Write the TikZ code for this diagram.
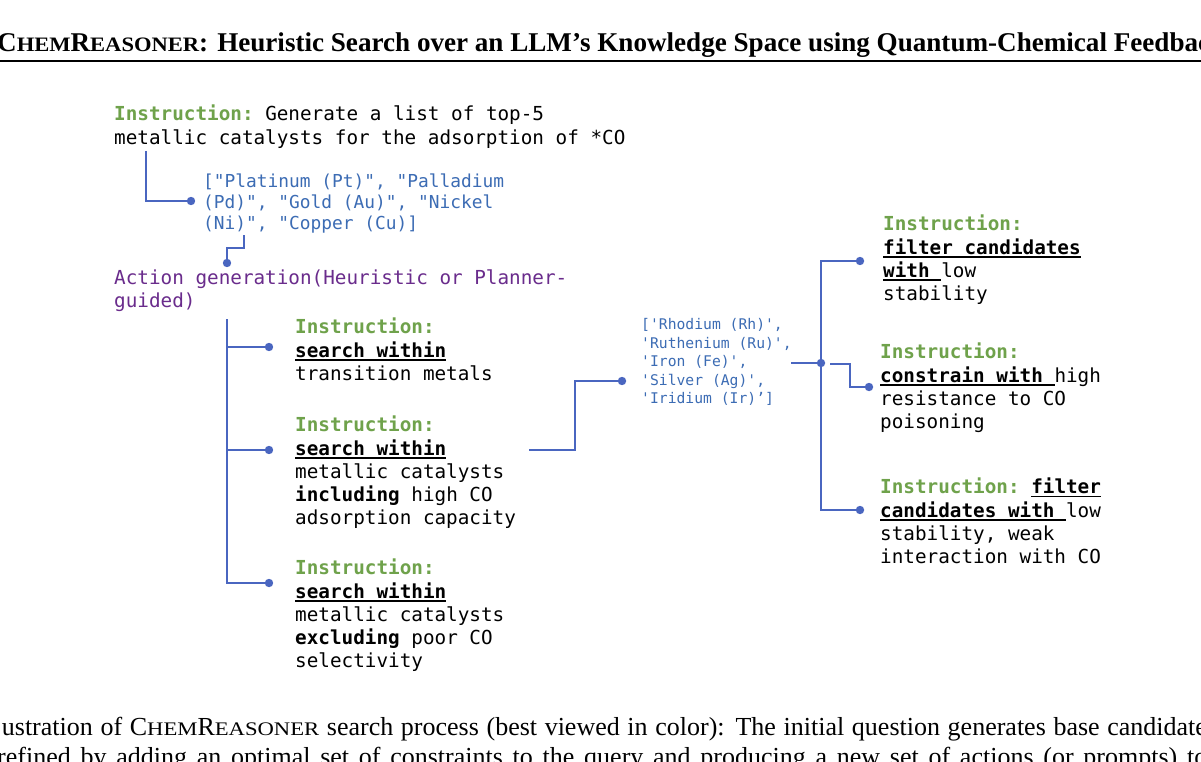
\documentclass[tikz,border=0pt]{standalone}
\usepackage{graphicx}
\usepackage{fontspec}
\setmainfont{Liberation Serif}
\setmonofont{DejaVu Sans Mono}
\definecolor{instgreen}{HTML}{6FA24B}
\definecolor{actpurple}{HTML}{6A2C8C}
\definecolor{listblue}{HTML}{3C6CB4}
\definecolor{linkblue}{HTML}{4A66C0}
\newcommand\inst[1]{\textcolor{instgreen}{\textbf{#1}}}
\newcommand\bul[1]{\setbox0\hbox{\textbf{#1}}\rlap{\rule[-3.6pt]{\wd0}{1.6pt}}\box0}
\newcommand\titlesc[1]{\scalebox{1.10}[1]{\fontsize{20.5}{20.5}\selectfont #1}}
\newcommand\capsc[1]{\scalebox{1.18}[1]{\fontsize{19.2}{19.2}\selectfont #1}}
\tikzset{
  txt/.style={font=\ttfamily\fontsize{19.3}{23.2}\selectfont, align=left, inner sep=0pt, anchor=north west},
  link/.style={draw=linkblue, line width=2pt},
  dot/.style={fill=linkblue},
}
\begin{document}
\begin{tikzpicture}[x=1pt,y=-1pt]
\useasboundingbox (0,0) rectangle (1201,762);
\clip (0,0) rectangle (1201,762);
\fill[white] (0,0) rectangle (1201,762);
% header
\node[anchor=base west, inner sep=0pt, font=\fontsize{27.1}{28}\selectfont\bfseries] (title) at (-3,52)
 {C\titlesc{HEM}R\titlesc{EASONER}: Heuristic Search over an LLM's Knowledge Space using Quantum-Chemical Feedback};
\coordinate (ruleL) at (0,61);
\coordinate (ruleR) at (1201,61);
\draw[line width=2.6pt] (ruleL) -- (ruleR);
% caption
\node[anchor=base west, inner sep=0pt, font=\fontsize{26}{30}\selectfont] (cap1) at (1.7,735)
 {\makebox[1205pt][s]{ustration of C\capsc{HEM}R\capsc{EASONER} search process (best viewed in color): The initial question generates base candidate}};
\node[anchor=base west, inner sep=0pt, font=\fontsize{26}{30}\selectfont] (cap2) at (-3,765)
 {\makebox[1210pt][s]{refined by adding an optimal set of constraints to the query and producing a new set of actions (or prompts) to}};
% nodes
\node[txt] (root) at (114,105) {\inst{Instruction:} Generate a list of top-5\\metallic catalysts for the adsorption of *CO};
\node[txt, font=\ttfamily\fontsize{17.85}{21}\selectfont, text=listblue] (cands) at (203,174)
 {["Platinum (Pt)", "Palladium\\(Pd)", "Gold (Au)", "Nickel\\(Ni)", "Copper (Cu)]};
\node[txt, font=\ttfamily\fontsize{19.3}{22.4}\selectfont, text=actpurple] (act) at (114,270)
 {Action generation(Heuristic or Planner-\\guided)};
\node[txt] (instA) at (295,318) {\inst{Instruction:}\\\bul{search within}\\transition metals};
\node[txt] (instB) at (295,416) {\inst{Instruction:}\\\bul{search within}\\metallic catalysts\\\textbf{including} high CO\\adsorption capacity};
\node[txt] (instC) at (295,559) {\inst{Instruction:}\\\bul{search within}\\metallic catalysts\\\textbf{excluding} poor CO\\selectivity};
\node[txt, font=\ttfamily\fontsize{14.7}{18.5}\selectfont, text=listblue] (cands2) at (641,318.5)
 {['Rhodium (Rh)',\\'Ruthenium (Ru)',\\'Iron (Fe)',\\'Silver (Ag)',\\'Iridium (Ir)’]};
\node[txt, font=\ttfamily\fontsize{19.3}{23.3}\selectfont] (instD) at (883,215) {\inst{Instruction:}\\\bul{filter candidates}\\\bul{with\ }low\\stability};
\node[txt, font=\ttfamily\fontsize{19.3}{23.3}\selectfont] (instE) at (880,343) {\inst{Instruction:}\\\bul{constrain with\ }high\\resistance to CO\\poisoning};
\node[txt, font=\ttfamily\fontsize{19.3}{23.3}\selectfont] (instF) at (880,478) {\inst{Instruction:} \bul{filter}\\\bul{candidates with\ }low\\stability, weak\\interaction with CO};
% connector points
\coordinate (rootOut) at (146,151);
\coordinate (candsIn) at (191,201);
\coordinate (candsOut) at (244,235);
\coordinate (actIn) at (227,263);
\coordinate (actOut) at (227,319);
\coordinate (aIn) at (269,347);
\coordinate (bIn) at (269,450);
\coordinate (cIn) at (269,583);
\coordinate (bOut) at (529,450);
\coordinate (cands2In) at (622,381);
\coordinate (cands2Out) at (791,363);
\coordinate (junc) at (821,363);
\coordinate (dIn) at (860,261);
\coordinate (eOut) at (830,364);
\coordinate (eIn) at (869,387);
\coordinate (fIn) at (860,510);
% connectors
\draw[link] (rootOut) |- (candsIn);
\draw[link] (candsOut) -- ++(0,13) -| (actIn);
\draw[link] (actOut) |- (cIn);
\draw[link] (actOut |- aIn) -- (aIn);
\draw[link] (actOut |- bIn) -- (bIn);
\draw[link] (bOut) -- ++(46,0) |- (cands2In);
\draw[link] (cands2Out) -- (junc);
\draw[link] (dIn) -| (junc) |- (fIn);
\draw[link] (eOut) -- ++(20,0) |- (eIn);
\foreach \p in {candsIn,actIn,aIn,bIn,cIn,cands2In,junc,dIn,eIn,fIn}
  \fill[dot] (\p) circle (4.2pt);
\end{tikzpicture}
\end{document}
